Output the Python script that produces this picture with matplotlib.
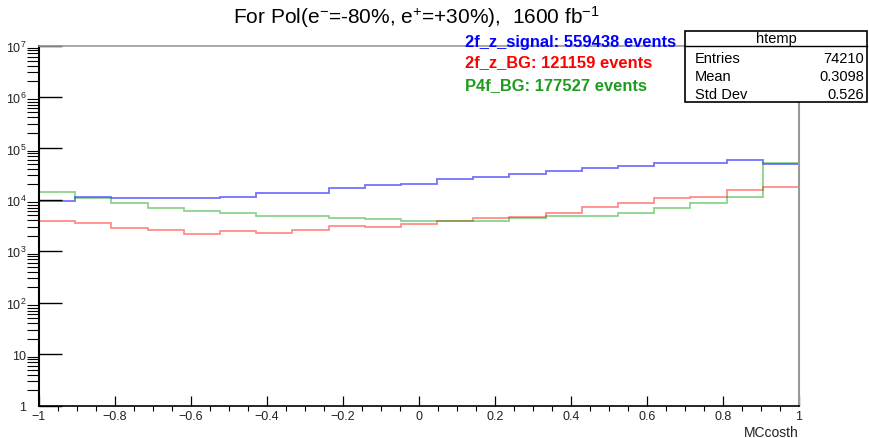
import numpy as np
import matplotlib
matplotlib.use("Agg")
import matplotlib.pyplot as plt
from matplotlib.patches import Rectangle
from matplotlib.lines import Line2D

plt.rcParams['font.family'] = ['Liberation Sans', 'DejaVu Sans']
plt.rcParams['mathtext.fontset'] = 'custom'
plt.rcParams['mathtext.rm'] = 'Liberation Sans'
plt.rcParams['mathtext.it'] = 'Liberation Sans:italic'
plt.rcParams['mathtext.bf'] = 'Liberation Sans:bold'

# 21 bins over MCcosth in [-1, 1]
edges = np.linspace(-1, 1, 22)
signal = [9300, 11450, 10650, 10650, 10650, 11450, 13350, 13350, 16750, 19150, 20600,
          25100, 27870, 31500, 36000, 41850, 44800, 52500, 52500, 59300, 50000]
z_bg = [3950, 3600, 2790, 2580, 2220, 2520, 2300, 2550, 3150, 2960, 3380,
        3890, 4380, 4690, 5660, 7360, 8620, 10800, 11450, 15500, 17740]
p4f_bg = [14350, 10800, 8620, 7100, 6000, 5660, 4860, 4860, 4520, 4240, 3875,
          3875, 3910, 4480, 4860, 4860, 5560, 6870, 8620, 11450, 52500]

legend_lines = ["2f_z_signal: 559438 events", "2f_z_BG: 121159 events", "P4f_BG: 177527 events"]
stats_rows = [("Entries", "74210"), ("Mean", "0.3098"), ("Std Dev", "0.526")]
ytick_vals = [1, 10, 1e2, 1e3, 1e4, 1e5, 1e6, 1e7]
ytick_labels = ["1", "10", "$10^{2}$", "$10^{3}$", "$10^{4}$", "$10^{5}$", "$10^{6}$", "$10^{7}$"]
xtick_vals = [-1, -0.8, -0.6, -0.4, -0.2, 0, 0.2, 0.4, 0.6, 0.8, 1]
xtick_labels = ["\u22121", "\u22120.8", "\u22120.6", "\u22120.4", "\u22120.2", "0", "0.2", "0.4", "0.6", "0.8", "1"]

W, H = 869, 439
fig = plt.figure(figsize=(W / 100, H / 100), dpi=100)
ax = fig.add_axes([39 / W, 1 - 406.7 / H, 760 / W, 360.2 / H])

ax.stairs(signal, edges, baseline=None, color='blue', alpha=0.55, lw=1.3)
ax.stairs(z_bg, edges, baseline=None, color='red', alpha=0.45, lw=1.3)
ax.stairs(p4f_bg, edges, baseline=None, color='#00a000', alpha=0.45, lw=1.3)

ax.set_yscale('log')
ax.set_ylim(1, 1e7)
ax.set_xlim(-1, 1)
ax.set_yticks(ytick_vals)
ax.set_yticklabels(ytick_labels)
ax.set_yticks([m * 10**d for d in range(7) for m in range(2, 10)], minor=True)
ax.set_xticks(xtick_vals)
ax.set_xticklabels(xtick_labels)
ax.set_xticks(np.arange(-1, 1.001, 0.05), minor=True)
ax.yaxis.set_minor_formatter(matplotlib.ticker.NullFormatter())

ax.tick_params(direction='in', top=False, right=False, colors='black', labelcolor='#222222')
ax.tick_params(axis='y', which='major', length=16.5, width=1.0, labelsize=9, pad=9)
ax.tick_params(axis='y', which='minor', length=8.5, width=0.8)
ax.tick_params(axis='x', which='major', length=7.2, width=0.9, labelsize=9, pad=3)
ax.tick_params(axis='x', which='minor', length=3.6, width=0.8)

ax.spines['left'].set_linewidth(1.5)
ax.spines['bottom'].set_linewidth(1.2)
ax.spines['top'].set_color('#999999')
ax.spines['right'].set_color('#999999')
ax.spines['top'].set_linewidth(1.2)
ax.spines['right'].set_linewidth(1.5)

fig.text(799 / W, 1 - 433 / H, "MCcosth", ha='right', va='center', fontsize=10, color='#222222')

fig.text(416 / W, 1 - 17 / H, "For Pol(e$^{-}$=-80%, e$^{+}$=+30%),  1600 fb$^{-1}$",
         ha='center', va='center', fontsize=15)

for txt, col, yy in zip(legend_lines, ['blue', 'red', '#1f9b1f'], [42, 63, 86]):
    fig.text(465 / W, 1 - yy / H, txt, ha='left', va='center', fontsize=11.9,
             fontweight='bold', color=col)

# stats box
x0, x1, y0, y1 = 685, 867, 31.7, 103
fig.patches.append(Rectangle((x0 / W, 1 - y1 / H), (x1 - x0) / W, (y1 - y0) / H,
                             transform=fig.transFigure, facecolor='white',
                             edgecolor='black', lw=1.2, zorder=5))
fig.lines.append(Line2D([x0 / W, x1 / W], [1 - 46.7 / H] * 2, transform=fig.transFigure,
                        color='black', lw=1.0, zorder=6))
fig.text((x0 + x1) / 2 / W, 1 - 39 / H, "htemp", ha='center', va='center', fontsize=10.5, zorder=7)
for (lab, val), yy in zip(stats_rows, [59, 77, 95]):
    fig.text(695 / W, 1 - yy / H, lab, ha='left', va='center', fontsize=10.5, zorder=7)
    fig.text(864 / W, 1 - yy / H, val, ha='right', va='center', fontsize=10.5, zorder=7)

fig.savefig("out.png", dpi=100)
